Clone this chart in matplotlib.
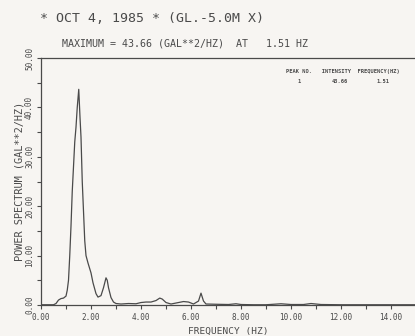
import matplotlib
matplotlib.use("Agg")
import matplotlib.pyplot as plt
from matplotlib.ticker import MultipleLocator, FormatStrFormatter

# power spectrum
freq = [0.0, 0.5, 0.6, 0.7, 0.8, 0.9, 1.0, 1.05, 1.1, 1.15, 1.2, 1.25, 1.3, 1.35,
        1.4, 1.45, 1.51, 1.56, 1.6, 1.65, 1.7, 1.75, 1.8, 1.88, 2.0, 2.08, 2.2,
        2.28, 2.4, 2.5, 2.6, 2.65, 2.7, 2.8, 2.9, 3.0, 3.2, 3.5, 3.8, 4.0, 4.2,
        4.4, 4.6, 4.75, 4.85, 5.0, 5.2, 5.5, 5.7, 5.9, 6.1, 6.3, 6.4, 6.5, 6.6,
        7.0, 7.5, 7.8, 8.0, 8.5, 9.0, 9.6, 10.0, 10.5, 10.8, 11.2, 12.0, 13.0,
        14.0, 15.0]
power = [0.05, 0.05, 0.3, 1.0, 1.3, 1.4, 1.8, 3.0, 5.0, 10.0, 16.0, 23.0, 28.0,
         33.0, 36.0, 40.0, 43.66, 38.0, 34.0, 25.0, 19.0, 13.0, 10.0, 8.5, 6.5,
         4.5, 2.3, 1.6, 1.9, 3.5, 5.5, 5.0, 3.5, 1.5, 0.6, 0.3, 0.2, 0.3, 0.25,
         0.5, 0.6, 0.6, 0.9, 1.4, 1.2, 0.5, 0.2, 0.5, 0.7, 0.6, 0.2, 0.8, 2.4,
         0.8, 0.2, 0.15, 0.1, 0.25, 0.1, 0.05, 0.05, 0.25, 0.1, 0.1, 0.3, 0.1,
         0.05, 0.05, 0.05, 0.05]

peak_no = [1]
peak_int = [43.66]
peak_freq = [1.51]

bg = "#f7f5f2"
ink = "#4a4a4a"
mono = "DejaVu Sans Mono"

fig = plt.figure(figsize=(4.15, 3.36), dpi=100, facecolor=bg)
ax = fig.add_axes([41 / 415, 1 - 305 / 336, 375 / 415, 247 / 336])
ax.set_facecolor(bg)

ax.plot(freq, power, color=ink, lw=0.9)
ax.set_xlim(0, 15)
ax.set_ylim(0, 50)

for s in ["left", "bottom", "top"]:
    ax.spines[s].set_color(ink)
    ax.spines[s].set_linewidth(0.9)
ax.spines["right"].set_visible(False)

ax.xaxis.set_major_locator(MultipleLocator(2))
ax.xaxis.set_minor_locator(MultipleLocator(1))
ax.yaxis.set_major_locator(MultipleLocator(10))
ax.yaxis.set_minor_locator(MultipleLocator(5))
ax.xaxis.set_major_formatter(FormatStrFormatter("%.2f"))
ax.yaxis.set_major_formatter(FormatStrFormatter("%.2f"))
ax.tick_params(which="both", direction="out", length=3, width=0.8, color=ink)
ax.tick_params(axis="x", labelsize=5.5, labelcolor=ink, pad=3)
ax.tick_params(axis="y", labelsize=5.5, labelcolor=ink, pad=2)
for lab in ax.get_xticklabels():
    lab.set_family(mono)
for lab in ax.get_yticklabels():
    lab.set_family(mono)
    lab.set_rotation(90)
    lab.set_va("center")

ax.set_xlabel("FREQUENCY (HZ)", fontsize=6.8, family=mono, color=ink)
ax.xaxis.set_label_coords(0.5, -0.09)
ax.set_ylabel("POWER SPECTRUM (GAL**2/HZ)", fontsize=7.4, family=mono, color=ink)
ax.yaxis.set_label_coords(-0.043, 0.5)

fig.text(40 / 415, 1 - 18 / 336, "* OCT 4, 1985 * (GL.-5.0M X)", fontsize=9.5,
         family=mono, color=ink, va="center", ha="left")
fig.text(62 / 415, 1 - 43 / 336,
         "MAXIMUM = %.2f (GAL**2/HZ)  AT   %.2f HZ" % (peak_int[0], peak_freq[0]),
         fontsize=7.2, family=mono, color=ink, va="center", ha="left")

# peak table in the top right corner
ax.text(0.652, 0.945, "PEAK NO.   INTENSITY  FREQUENCY(HZ)", transform=ax.transAxes,
        fontsize=3.9, family=mono, weight="bold", color=ink, va="center", ha="left")
for i in range(len(peak_no)):
    y = 0.905 - 0.04 * i
    ax.text(0.689, y, str(peak_no[i]), transform=ax.transAxes, fontsize=3.9,
            family=mono, weight="bold", color=ink, va="center", ha="center")
    ax.text(0.797, y, "%.2f" % peak_int[i], transform=ax.transAxes, fontsize=3.9,
            family=mono, weight="bold", color=ink, va="center", ha="center")
    ax.text(0.912, y, "%.2f" % peak_freq[i], transform=ax.transAxes, fontsize=3.9,
            family=mono, weight="bold", color=ink, va="center", ha="center")

fig.savefig("out.png", dpi=100, facecolor=bg)
